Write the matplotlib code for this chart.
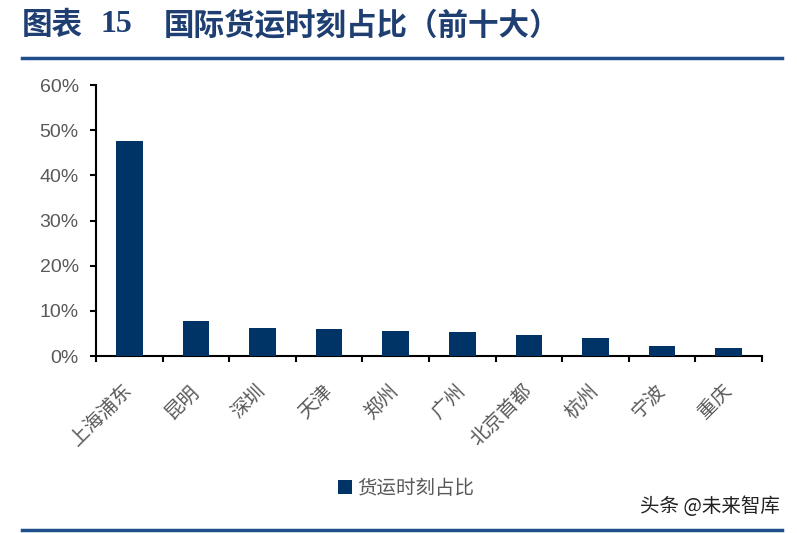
import matplotlib.pyplot as plt
import numpy as np

plt.rcParams['font.family'] = ['Noto Sans CJK SC', 'DejaVu Sans']

airports = ['上海浦东', '昆明', '深圳', '天津', '郑州', '广州', '北京首都', '杭州', '宁波', '重庆']
share = [47.6, 7.8, 6.2, 6.0, 5.5, 5.3, 4.6, 4.1, 2.2, 1.8]
yticks = [0, 10, 20, 30, 40, 50, 60]
ytick_labels = ['0%', '10%', '20%', '30%', '40%', '50%', '60%']
series_name = '货运时刻占比'

fig = plt.figure(figsize=(7.97, 5.33), dpi=100)
ax = fig.add_axes([0.1205, 0.332, 0.8355, 0.5085])

x = np.arange(len(airports))
ax.bar(x, share, width=0.4, color='#003366', label=series_name, zorder=3)

ax.set_xlim(-0.5, len(airports) - 0.5)
ax.set_ylim(0, 60)
ax.set_yticks(yticks)
ax.set_yticklabels(ytick_labels, fontsize=14, color='#595959', family=['Liberation Sans', 'DejaVu Sans'])

# boundaries get the tick marks, centres get the labels
ax.set_xticks(np.arange(len(airports) + 1) - 0.5)
ax.set_xticklabels([])
ax.set_xticks(x, minor=True)
ax.set_xticklabels(airports, minor=True, rotation=45, ha='right', va='center',
                   rotation_mode='anchor', fontsize=14, color='#595959')
ax.tick_params(axis='x', which='minor', length=0, pad=23)
ax.tick_params(axis='x', which='major', length=4.5, width=1.5, direction='out')
ax.tick_params(axis='y', length=4.5, width=1.5, direction='out', pad=8)

for s in ['top', 'right']:
    ax.spines[s].set_visible(False)
for s in ['left', 'bottom']:
    ax.spines[s].set_linewidth(1.5)
    ax.spines[s].set_color('black')

leg = fig.legend(loc='center', bbox_to_anchor=(0.51, 1 - 488 / 533), frameon=False,
                 fontsize=14, handlelength=0.7, handleheight=0.7, handletextpad=0.3)
for t in leg.get_texts():
    t.set_color('#595959')

title_color = '#1F3F73'
fig.text(22 / 797, 1 - 25 / 533, '图表', fontsize=22, fontweight='bold', color=title_color,
         va='center', ha='left')
fig.text(100 / 797, 1 - 25 / 533, '15', fontsize=23, fontweight='bold', color=title_color,
         va='center', ha='left', family=['Liberation Serif', 'DejaVu Serif'])
fig.text(164 / 797, 1 - 25 / 533, '国际货运时刻占比（前十大）', fontsize=22, fontweight='bold',
         color=title_color, va='center', ha='left')
fig.add_artist(plt.Line2D([22 / 797, 782 / 797], [1 - 58 / 533] * 2, color='#1F4E8C', lw=2.5))
fig.add_artist(plt.Line2D([22 / 797, 782 / 797], [1 - 530 / 533] * 2, color='#1F4E8C', lw=2.5))
fig.text(780 / 797, 1 - 506 / 533, '头条 @未来智库', fontsize=14, color='#222222',
         va='center', ha='right')

fig.savefig('out.png', dpi=100)
